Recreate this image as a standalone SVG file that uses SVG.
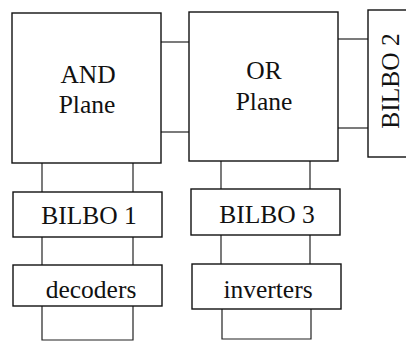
<svg xmlns="http://www.w3.org/2000/svg" width="406" height="341" viewBox="0 0 406 341">
  <style>
    .box { fill: #ffffff; stroke: #111111; stroke-width: 1.4; }
    .wire { fill: none; stroke: #222222; stroke-width: 1.2; }
  </style>
  <rect x="0" y="0" width="406" height="341" fill="#ffffff"/>

  <!-- connectors between blocks -->
  <g id="connectors">
    <!-- AND plane to OR plane -->
    <line class="wire" x1="161" y1="42" x2="189" y2="42"/>
    <line class="wire" x1="161" y1="132" x2="189" y2="132"/>
    <!-- OR plane to BILBO 2 -->
    <line class="wire" x1="338" y1="39" x2="368" y2="39"/>
    <line class="wire" x1="338" y1="128" x2="368" y2="128"/>
    <!-- AND plane column -->
    <line class="wire" x1="42" y1="163" x2="42" y2="192"/>
    <line class="wire" x1="133" y1="163" x2="133" y2="192"/>
    <line class="wire" x1="42" y1="237" x2="42" y2="265"/>
    <line class="wire" x1="133" y1="237" x2="133" y2="265"/>
    <path class="wire" d="M42,306 V340 H133 V306"/>
    <!-- OR plane column -->
    <line class="wire" x1="221" y1="161" x2="221" y2="189"/>
    <line class="wire" x1="310" y1="161" x2="310" y2="189"/>
    <line class="wire" x1="221" y1="235" x2="221" y2="264"/>
    <line class="wire" x1="310" y1="235" x2="310" y2="264"/>
    <path class="wire" d="M222,309 V339 H311 V309"/>
  </g>

  <g font-family="Liberation Serif, serif" font-size="25.5" fill="#111111" text-anchor="middle">
    <g id="and-plane">
      <rect class="box" x="12" y="13" width="149" height="150"/>
      <text x="88" y="83">AND</text>
      <text x="87" y="113">Plane</text>
    </g>

    <g id="or-plane">
      <rect class="box" x="189" y="12" width="149" height="149"/>
      <text x="264" y="79">OR</text>
      <text x="264" y="110">Plane</text>
    </g>

    <g id="bilbo2">
      <rect class="box" x="368" y="10" width="50" height="147"/>
      <text transform="translate(399,81) rotate(-90)">BILBO 2</text>
    </g>

    <g id="bilbo1">
      <rect class="box" x="13" y="192" width="149" height="45"/>
      <text x="89" y="224">BILBO 1</text>
    </g>

    <g id="bilbo3">
      <rect class="box" x="191" y="189" width="149" height="46"/>
      <text x="267" y="223">BILBO 3</text>
    </g>

    <g id="decoders">
      <rect class="box" x="13" y="265" width="149" height="41"/>
      <text x="91" y="298">decoders</text>
    </g>

    <g id="inverters">
      <rect class="box" x="192" y="264" width="149" height="45"/>
      <text x="268" y="298">inverters</text>
    </g>
  </g>
</svg>
